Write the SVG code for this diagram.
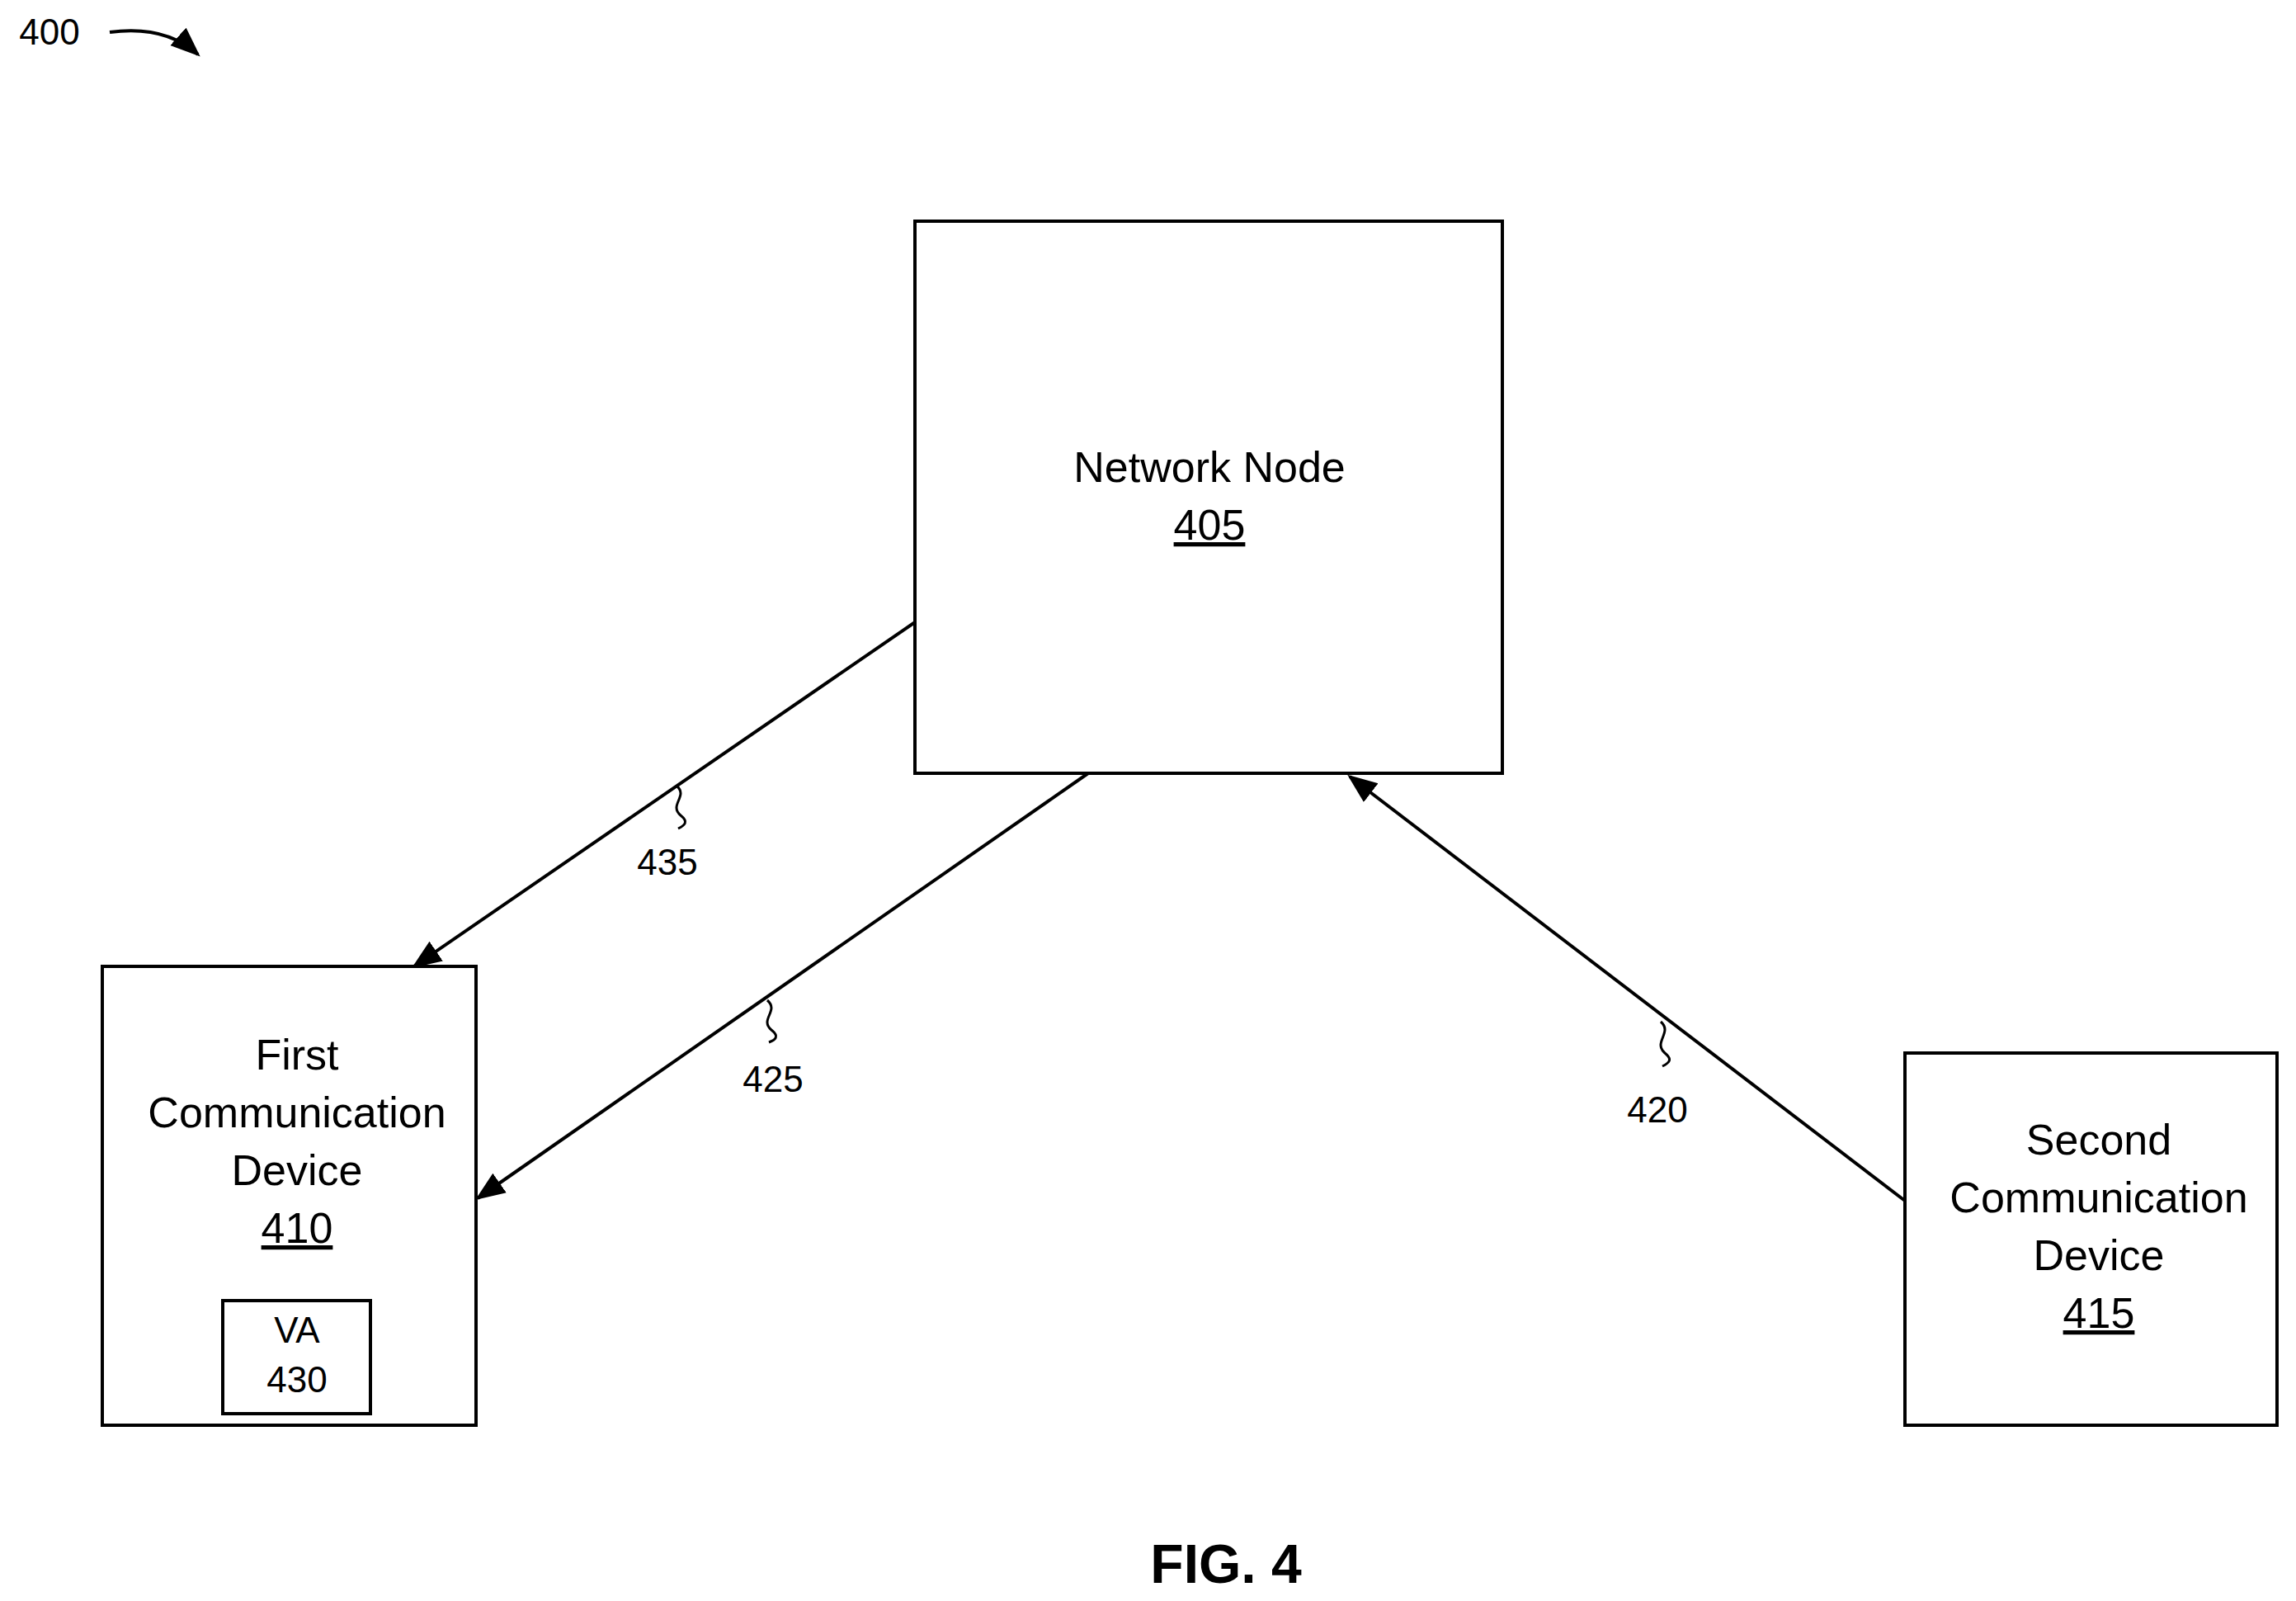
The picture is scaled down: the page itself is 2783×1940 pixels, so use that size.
<svg xmlns="http://www.w3.org/2000/svg" width="2783" height="1940" viewBox="0 0 2783 1940">
<style>
.box{fill:#fff;stroke:#000;stroke-width:4}
.t{font-family:"Liberation Sans",Arial,sans-serif;font-size:52px;text-anchor:middle;fill:#000}
.s{font-family:"Liberation Sans",Arial,sans-serif;font-size:44px;text-anchor:middle;fill:#000}
.c{fill:none;stroke:#000;stroke-width:4}
.q{fill:none;stroke:#000;stroke-width:3}
</style>
<defs><marker id="a" markerWidth="10" markerHeight="10" refX="9" refY="5" orient="auto" markerUnits="userSpaceOnUse" viewBox="0 0 10 10"><path d="M0,0 L10,5 L0,10z" fill="#000"/></marker>
<marker id="m" viewBox="0 0 10 10" refX="9" refY="5" markerWidth="36" markerHeight="36" orient="auto" markerUnits="userSpaceOnUse"><path d="M0,1 L10,5 L0,9z" fill="#000"/></marker></defs>
<rect width="2783" height="1940" fill="#fff"/>
<g id="ref400"><text x="60" y="54" class="s">400</text><path d="M133,39 Q200,30 240,66" class="c" marker-end="url(#m)"/></g>
<g id="n405"><rect x="1109" y="268" width="712" height="669" class="box"/><text x="1466" y="584" class="t">Network Node</text><text x="1466" y="654" class="t" text-decoration="underline">405</text></g>
<g id="n410"><rect x="124" y="1171" width="453" height="556" class="box"/><text x="360" y="1296" class="t">First</text><text x="360" y="1366" class="t">Communication</text><text x="360" y="1436" class="t">Device</text><text x="360" y="1506" class="t" text-decoration="underline">410</text>
<g id="n430"><rect x="270" y="1576" width="179" height="137" class="box"/><text x="360" y="1627" class="s">VA</text><text x="360" y="1687" class="s">430</text></g></g>
<g id="n415"><rect x="2309" y="1276" width="451" height="451" class="box"/><text x="2544" y="1399" class="t">Second</text><text x="2544" y="1469" class="t">Communication</text><text x="2544" y="1539" class="t">Device</text><text x="2544" y="1609" class="t" text-decoration="underline">415</text></g>
<g id="connectors">
<line x1="1109" y1="754" x2="502" y2="1171" class="c" marker-end="url(#m)"/>
<line x1="1319" y1="937" x2="579" y2="1452" class="c" marker-end="url(#m)"/>
<line x1="2309" y1="1455" x2="1636" y2="941" class="c" marker-end="url(#m)"/>
<path d="M820,952 C835,965 810,975 825,988 C835,996 830,1000 822,1004" class="q"/>
<path d="M930,1212 C945,1225 920,1235 935,1248 C945,1256 940,1260 932,1263" class="q"/>
<path d="M2013,1238 C2028,1251 2003,1263 2018,1276 C2028,1284 2023,1288 2015,1292" class="q"/>
<text x="809" y="1060" class="s">435</text>
<text x="937" y="1323" class="s">425</text>
<text x="2009" y="1360" class="s">420</text>
</g>
<text x="1486" y="1918" class="t" style="font-weight:bold;font-size:66px">FIG. 4</text>
</svg>
